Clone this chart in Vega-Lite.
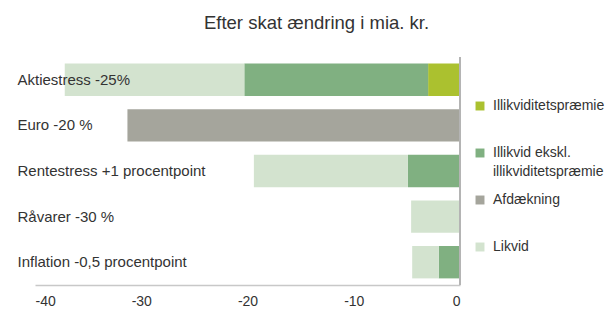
{
  "$schema": "https://vega.github.io/schema/vega-lite/v6.json",
  "width": 425,
  "height": 228,
  "autosize": {"type": "none"},
  "padding": {"left": 35, "top": 57, "right": 154, "bottom": 25},
  "background": "white",
  "config": {
    "view": {"stroke": null},
    "font": "Liberation Sans",
    "text": {"font": "Liberation Sans"}
  },
  "title": {
    "text": "Efter skat ændring i mia. kr.",
    "fontSize": 18.5,
    "fontWeight": "normal",
    "color": "#333333",
    "font": "Liberation Sans",
    "anchor": "middle",
    "dx": 69,
    "offset": 24
  },
  "data": {
    "values": [
      {"scenario": "Aktiestress -25%", "type": "Illikviditetspræmie", "rank": 1, "value": -3.0},
      {"scenario": "Aktiestress -25%", "type": "Illikvid ekskl. illikviditetspræmie", "rank": 2, "value": -17.3},
      {"scenario": "Aktiestress -25%", "type": "Likvid", "rank": 4, "value": -16.9},
      {"scenario": "Euro -20 %", "type": "Afdækning", "rank": 3, "value": -31.3},
      {"scenario": "Rentestress +1 procentpoint", "type": "Illikvid ekskl. illikviditetspræmie", "rank": 2, "value": -4.9},
      {"scenario": "Rentestress +1 procentpoint", "type": "Likvid", "rank": 4, "value": -14.5},
      {"scenario": "Råvarer -30 %", "type": "Likvid", "rank": 4, "value": -4.6},
      {"scenario": "Inflation -0,5 procentpoint", "type": "Illikvid ekskl. illikviditetspræmie", "rank": 2, "value": -2.0},
      {"scenario": "Inflation -0,5 procentpoint", "type": "Likvid", "rank": 4, "value": -2.5}
    ]
  },
  "layer": [
    {
      "mark": {"type": "bar"},
      "encoding": {
        "y": {
          "field": "scenario",
          "type": "nominal",
          "sort": ["Aktiestress -25%", "Euro -20 %", "Rentestress +1 procentpoint", "Råvarer -30 %", "Inflation -0,5 procentpoint"],
          "scale": {"paddingInner": 0.29, "paddingOuter": 0.145},
          "axis": {
            "title": null,
            "domain": false,
            "ticks": false,
            "tickSize": 0,
            "labelAlign": "left",
            "labelPadding": 18,
            "labelFontSize": 15,
            "labelColor": "#333333",
            "labelFont": "Liberation Sans",
            "labelLimit": 400,
            "zindex": 2
          }
        },
        "x": {
          "field": "value",
          "type": "quantitative",
          "stack": "zero",
          "scale": {"domain": [-40, 0], "nice": false},
          "axis": {
            "title": null,
            "values": [-40, -30, -20, -10, 0],
            "labelExpr": "'' + datum.value",
            "grid": false,
            "ticks": false,
            "domainColor": "#c8c8c8",
            "domainWidth": 1.5,
            "labelFontSize": 14,
            "labelColor": "#333333",
            "labelFont": "Liberation Sans",
            "labelPadding": 9
          }
        },
        "color": {
          "field": "type",
          "type": "nominal",
          "scale": {
            "domain": ["Illikviditetspræmie", "Illikvid ekskl. illikviditetspræmie", "Afdækning", "Likvid"],
            "range": ["#abc12f", "#80b081", "#a5a59c", "#d3e3cf"]
          },
          "legend": {
            "title": null,
            "orient": "none",
            "legendX": 438,
            "legendY": 42,
            "padding": 0,
            "gridAlign": "all",
            "symbolType": "square",
            "symbolSize": 80,
            "symbolStrokeWidth": 0,
            "labelFontSize": 14,
            "labelColor": "#333333",
            "labelFont": "Liberation Sans",
            "labelLimit": 300,
            "labelOffset": 6,
            "labelBaseline": "top",
            "rowPadding": 14,
            "labelExpr": "datum.label == 'Illikvid ekskl. illikviditetspræmie' ? ['Illikvid ekskl.', 'illikviditetspræmie'] : datum.label",
            "encode": {
              "labels": {
                "update": {
                  "dy": {"value": -7},
                  "lineHeight": {"value": 19}
                }
              }
            }
          }
        },
        "order": {"field": "rank", "type": "quantitative"}
      }
    },
    {
      "mark": {"type": "rule", "color": "#b4b4b4", "strokeWidth": 1.5},
      "encoding": {"x": {"datum": 0}}
    }
  ]
}
